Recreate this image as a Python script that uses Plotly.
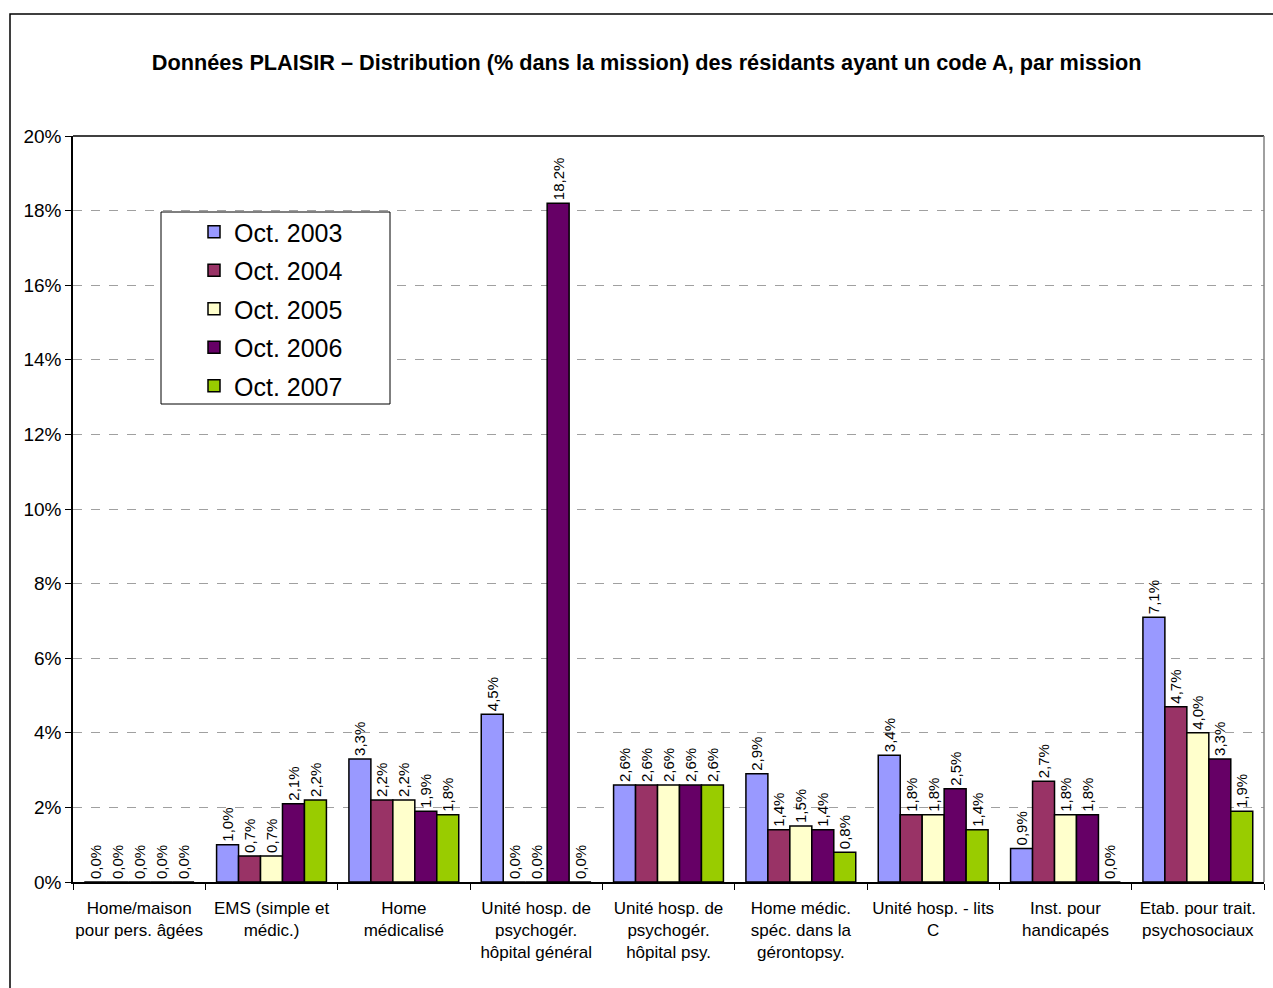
import plotly.graph_objects as go

categories = [
    "Home/maison<br>pour pers. âgées",
    "EMS (simple et<br>médic.)",
    "Home<br>médicalisé",
    "Unité hosp. de<br>psychogér.<br>hôpital général",
    "Unité hosp. de<br>psychogér.<br>hôpital psy.",
    "Home médic.<br>spéc. dans la<br>gérontopsy.",
    "Unité hosp. - lits<br>C",
    "Inst. pour<br>handicapés",
    "Etab. pour trait.<br>psychosociaux",
]
series_names = ["Oct. 2003", "Oct. 2004", "Oct. 2005", "Oct. 2006", "Oct. 2007"]
oct2003 = [0.0, 1.0, 3.3, 4.5, 2.6, 2.9, 3.4, 0.9, 7.1]
oct2004 = [0.0, 0.7, 2.2, 0.0, 2.6, 1.4, 1.8, 2.7, 4.7]
oct2005 = [0.0, 0.7, 2.2, 0.0, 2.6, 1.5, 1.8, 1.8, 4.0]
oct2006 = [0.0, 2.1, 1.9, 18.2, 2.6, 1.4, 2.5, 1.8, 3.3]
oct2007 = [0.0, 2.2, 1.8, 0.0, 2.6, 0.8, 1.4, 0.0, 1.9]
colors = ["#9999FF", "#993366", "#FFFFCC", "#660066", "#99CC00"]
y_ticks = [0, 2, 4, 6, 8, 10, 12, 14, 16, 18, 20]
y_tick_labels = [f"{v}%" for v in y_ticks]

series = [oct2003, oct2004, oct2005, oct2006, oct2007]

fig = go.Figure()
for i, (name, vals, col) in enumerate(zip(series_names, series, colors)):
    fig.add_trace(go.Bar(
        x=categories, y=vals, name=name, legendgroup=name,
        marker=dict(color=col, line=dict(color="black", width=1.5)),
        texttemplate="%{y:.1f}%", textposition="outside", textangle=-90,
        textfont=dict(family="Arial", size=15, color="black"),
        outsidetextfont=dict(family="Arial", size=15, color="black"),
        constraintext="none",
        cliponaxis=False,
    ))

W, H = 1273, 988
L, R, T, B = 73, 9, 136, 106
pw, ph = W - L - R, H - T - B

def px(x):
    return (x - L) / pw

def py(y):
    return (H - B - y) / ph

fig.update_layout(
    width=W, height=H,
    margin=dict(l=L, r=R, t=T, b=B),
    paper_bgcolor="white", plot_bgcolor="white",
    separators=", ",
    barmode="group", bargap=0.17, bargroupgap=0,
    font=dict(family="Arial", color="black"),
    title=dict(text="<b>Données PLAISIR – Distribution (% dans la mission) des résidants ayant un code A, par mission</b>",
               x=0.508, xanchor="center", y=1 - 62 / H, yanchor="middle",
               font=dict(family="Arial", size=21.7, color="black")),
    legend=dict(x=px(194), y=py(209), xanchor="left", yanchor="top",
                bgcolor="rgba(0,0,0,0)", borderwidth=0,
                font=dict(family="Arial", size=25, color="black"),
                traceorder="grouped", tracegroupgap=3),
    xaxis=dict(showline=True, linecolor="black", linewidth=1.5,
               ticks="outside", tickson="boundaries", ticklen=6, tickcolor="black",
               ticklabelstandoff=10,
               tickfont=dict(family="Arial", size=17, color="black"), tickangle=0),
    yaxis=dict(range=[0, 20], tickvals=y_ticks, ticktext=y_tick_labels,
               showline=True, linecolor="black", linewidth=1.5,
               ticks="outside", ticklen=6, tickcolor="black",
               tickfont=dict(family="Arial", size=19, color="black"),
               showgrid=True, gridcolor="#A0A0A0", griddash="dash", gridwidth=1,
               zeroline=False),
    shapes=[
        dict(type="line", xref="paper", yref="paper", x0=0, x1=1, y0=1, y1=1,
             line=dict(color="black", width=1.5)),
        dict(type="line", xref="paper", yref="paper", x0=1, x1=1, y0=0, y1=1,
             line=dict(color="#808080", width=1.5)),
        dict(type="rect", xref="paper", yref="paper", x0=px(10), x1=1.05,
             y0=-0.3, y1=py(14), line=dict(color="black", width=1.5),
             fillcolor="rgba(0,0,0,0)", layer="below"),
        dict(type="rect", xref="paper", yref="paper", x0=px(161), x1=px(390),
             y0=py(404), y1=py(212), line=dict(color="black", width=1),
             fillcolor="white", layer="above"),
    ],
)

fig.write_html("out.html", config={"displayModeBar": False},
               post_script="document.body.style.margin='0';document.body.style.overflow='hidden';")
